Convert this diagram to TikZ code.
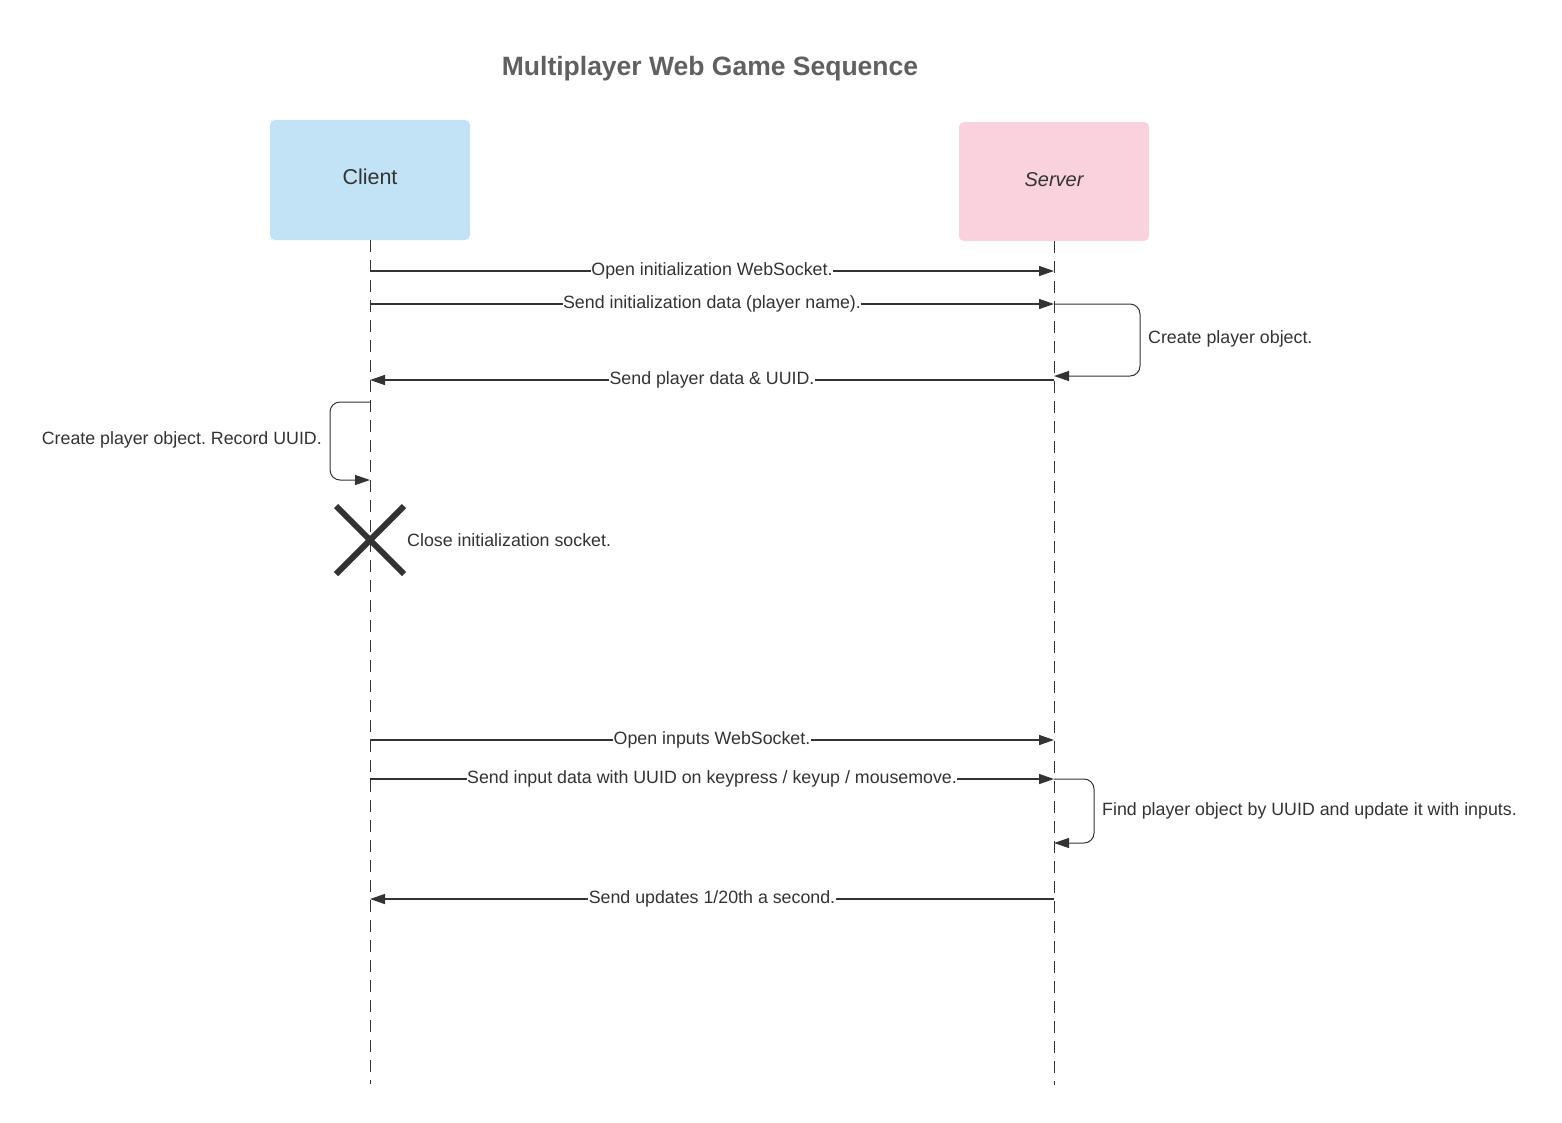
\documentclass[tikz,border=0pt]{standalone}
\usepackage{fontspec}
\setmainfont{Liberation Sans}
\usetikzlibrary{arrows.meta}
\frenchspacing
\definecolor{ink}{HTML}{333333}
\definecolor{titlegray}{HTML}{606060}
\definecolor{clientblue}{HTML}{C1E3F5}
\definecolor{serverpink}{HTML}{F9D2DE}
\tikzset{
  actor/.style={rounded corners=5pt, inner sep=0pt, text=ink},
  lifeline/.style={draw=ink, line width=1pt, dash pattern=on 12pt off 8pt},
  msg/.style={draw=ink, line width=1.4pt, -{Triangle[length=15pt,width=10pt]}},
  selfmsg/.style={draw=ink, line width=1pt, rounded corners=10pt, -{Triangle[length=15pt,width=10pt]}},
  msglabel/.style={fill=white, inner sep=0.5pt, yshift=0.5pt, text=ink, font=\fontsize{17.8}{21}\selectfont},
  note/.style={inner sep=0pt, text=ink, font=\fontsize{17.8}{21}\selectfont},
  killmark/.style={draw=ink, line width=6pt}
}
\begin{document}
\begin{tikzpicture}[x=1pt,y=-1pt]
\useasboundingbox[fill=white] (0,0) rectangle (1562,1122);

% title
\node[text=titlegray, font=\bfseries\fontsize{26.5}{30}\selectfont] (title) at (710,69) {Multiplayer Web Game Sequence};

% actors
\node[actor, fill=clientblue, minimum width=200pt, minimum height=120pt, font=\fontsize{21.5}{25}\selectfont, text depth=0pt, text height=10pt] (client) at (370,180) {};
\node[text=ink, font=\fontsize{21.5}{25}\selectfont, inner sep=0pt] (clientlbl) at (370,177) {Client};
\node[actor, fill=serverpink, minimum width=190pt, minimum height=119pt] (server) at (1054,181.5) {};
\node[text=ink, font=\itshape\fontsize{20}{24}\selectfont, inner sep=0pt] (serverlbl) at (1054,179.5) {Server};

% lifelines
\coordinate (cend) at (370,1084);
\coordinate (send) at (1054,1085);
\draw[lifeline] (client.south) -- (cend);
\draw[lifeline] (server.south) -- (send);

% event points
\coordinate (c1) at (370,271);  \coordinate (s1) at (1054,271);
\coordinate (c2) at (370,304);  \coordinate (s2) at (1054,304);
\coordinate (s3) at (1054,376);
\coordinate (c4) at (370,380);  \coordinate (s4) at (1054,380);
\coordinate (c5) at (370,402);  \coordinate (c6) at (370,480);
\coordinate (kill) at (370,540);
\coordinate (c7) at (370,740);  \coordinate (s7) at (1054,740);
\coordinate (c8) at (370,779);  \coordinate (s8) at (1054,779);
\coordinate (s9) at (1054,843);
\coordinate (c10) at (370,899); \coordinate (s10) at (1054,899);

% messages
\draw[msg] (c1) -- node[msglabel] (m1) {Open initialization WebSocket.} (s1);
\draw[msg] (c2) -- node[msglabel] (m2) {Send initialization data (player name).} (s2);
\draw[selfmsg] (s2) -- ++(86,0) |- (s3);
\node[note, anchor=west] (n1) at (1148,339) {Create player object.};
\draw[msg] (s4) -- node[msglabel] (m3) {Send player data \& UUID.} (c4);
\draw[selfmsg] (c5) -- ++(-40,0) |- (c6);
\node[note, anchor=east] (n2) at (322,440) {Create player object. Record UUID.};

% destruction
\draw[killmark] (kill) ++(-34,-34) -- ++(68,68);
\draw[killmark] (kill) ++(-34,34) -- ++(68,-68);
\node[note, anchor=west] (n3) at (407,540) {Close initialization socket.};

\draw[msg] (c7) -- node[msglabel] (m4) {Open inputs WebSocket.} (s7);
\draw[msg] (c8) -- node[msglabel] (m5) {Send input data with UUID on keypress / keyup / mousemove.} (s8);
\draw[selfmsg] (s8) -- ++(40,0) |- (s9);
\node[note, anchor=west] (n4) at (1102,811) {Find player object by UUID and update it with inputs.};
\draw[msg] (s10) -- node[msglabel] (m6) {Send updates 1/20th a second.} (c10);
\end{tikzpicture}
\end{document}
